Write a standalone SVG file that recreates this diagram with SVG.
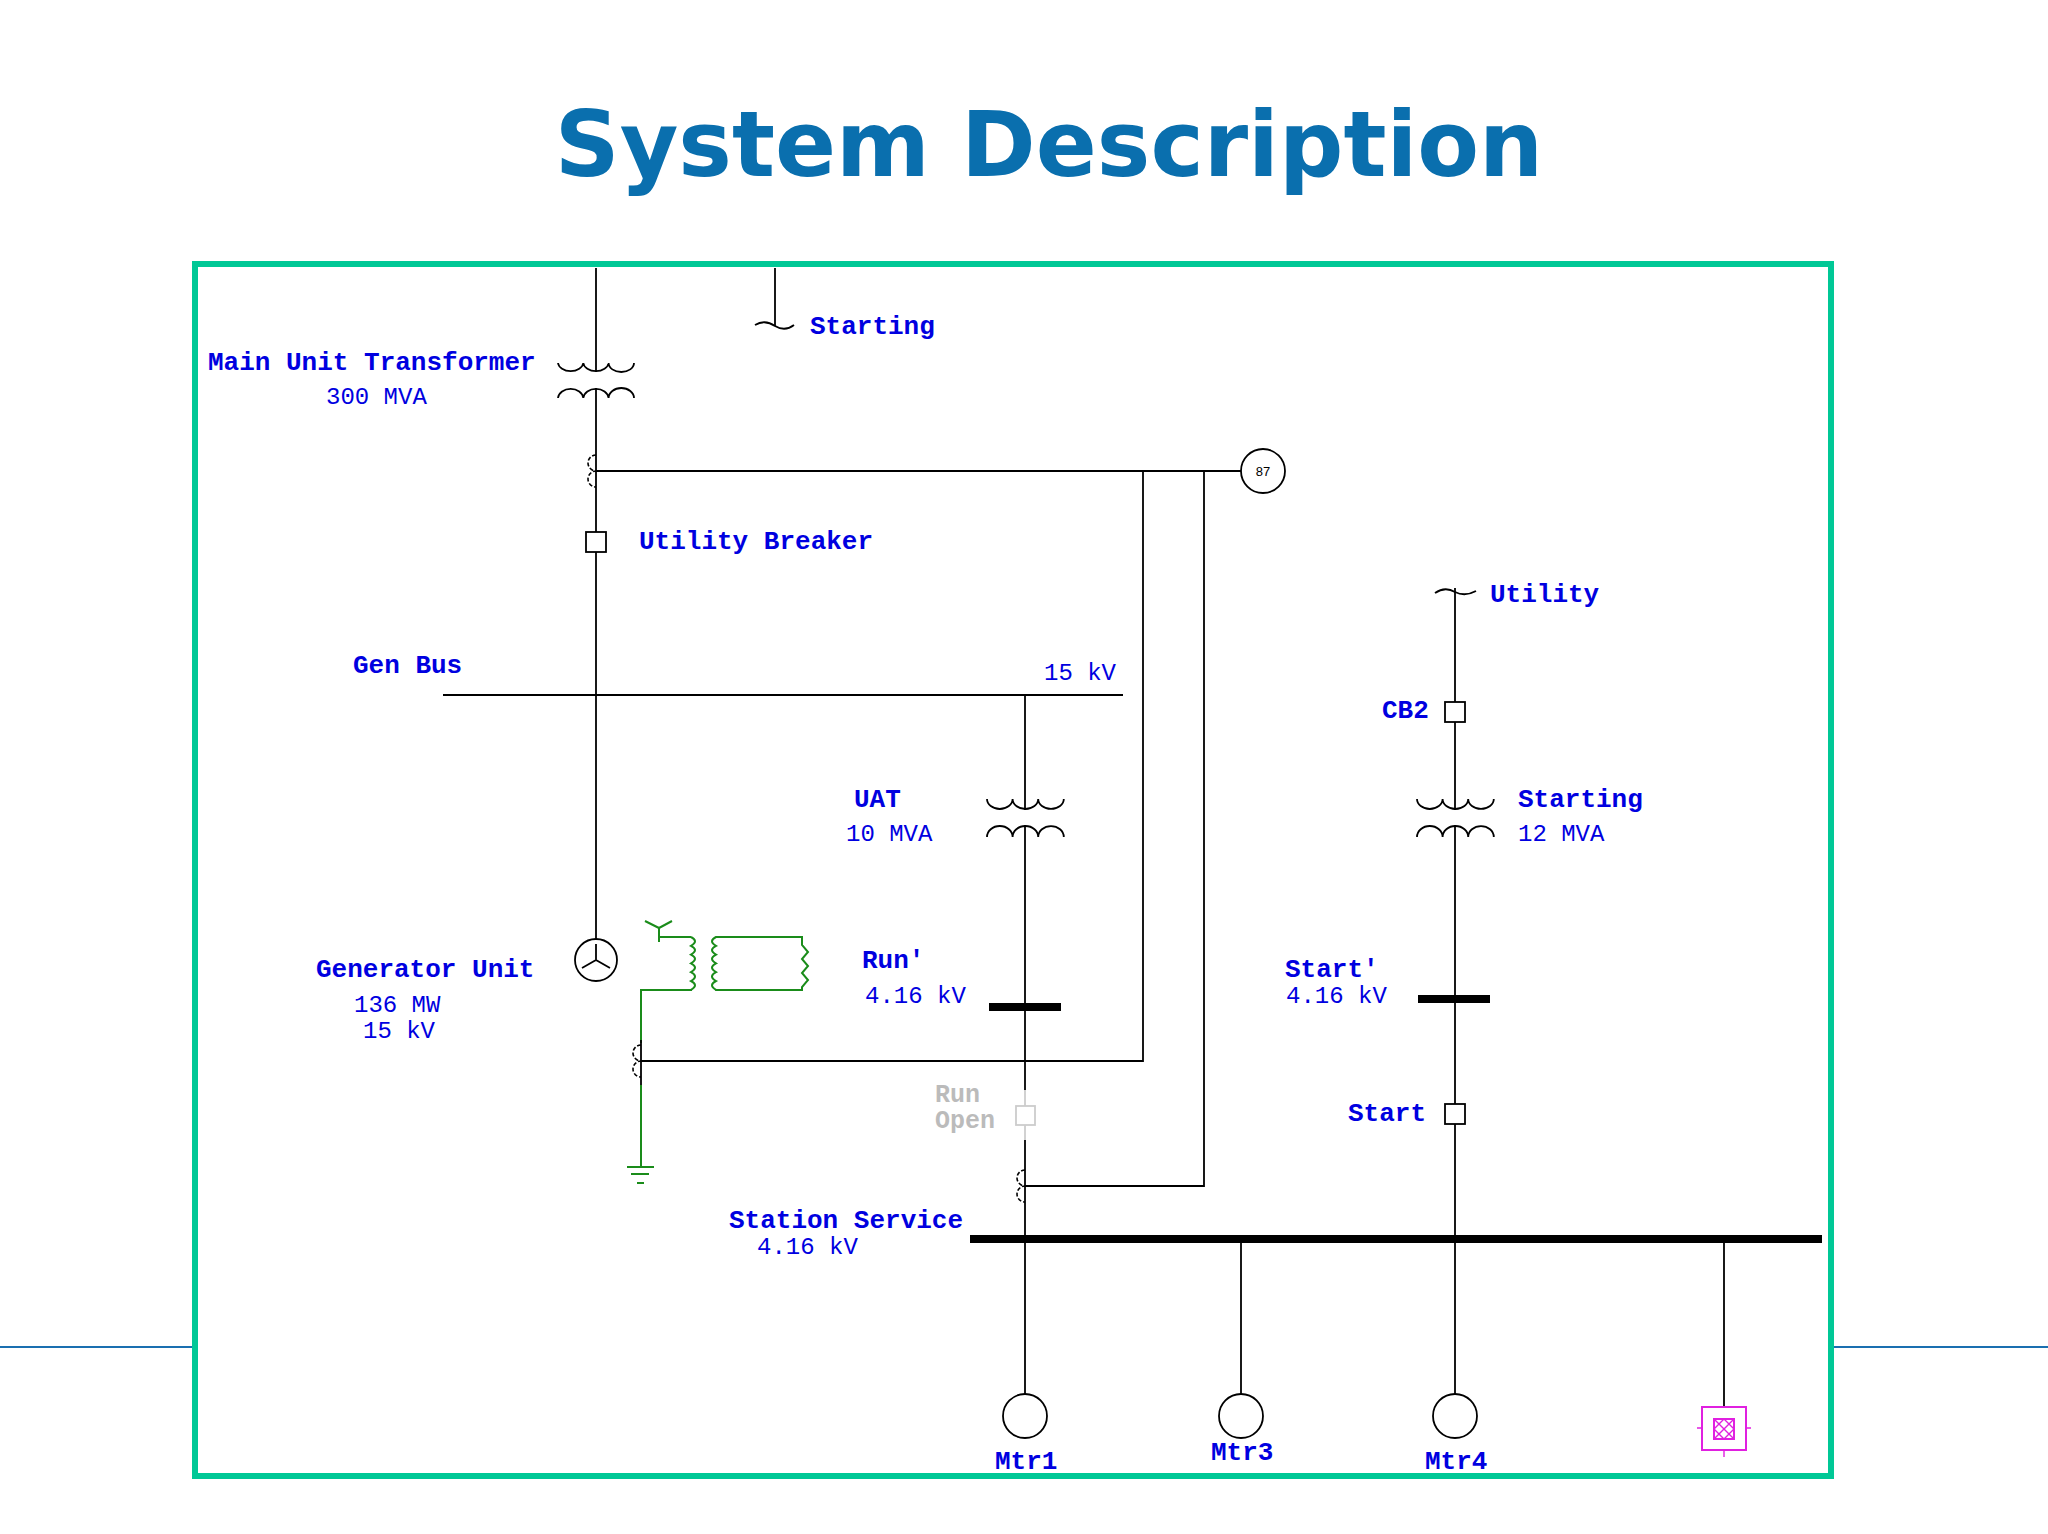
<svg xmlns="http://www.w3.org/2000/svg" width="2048" height="1534" viewBox="0 0 2048 1534">
<style>
.w{fill:none;stroke:#000;stroke-width:1.8}
.g{fill:none;stroke:#1a8c1a;stroke-width:2}
.bus{stroke:#000;stroke-width:8}
.lb{font-family:"Liberation Mono",monospace;font-weight:bold;font-size:26px;fill:#0000e0}
.lv{font-family:"Liberation Mono",monospace;font-size:24px;fill:#0000e0}
.gr{font-family:"Liberation Mono",monospace;font-weight:bold;font-size:25px;fill:#bbbbbb}
.ct{fill:none;stroke:#000;stroke-width:1.6;stroke-dasharray:4 2}
</style>
<rect width="2048" height="1534" fill="#fff"/>
<text x="1049" y="176" text-anchor="middle" font-family="DejaVu Sans,sans-serif" font-weight="bold" font-size="90" fill="#0a6fae">System Description</text>
<line x1="0" y1="1347" x2="195" y2="1347" stroke="#1a6fb0" stroke-width="2"/>
<line x1="1831" y1="1347" x2="2048" y2="1347" stroke="#1a6fb0" stroke-width="2"/>
<rect x="195" y="264" width="1636" height="1212" fill="none" stroke="#00c896" stroke-width="6"/>
<g id="connectors">
<line class="w" x1="596" y1="268" x2="596" y2="372"/>
<line class="w" x1="596" y1="388" x2="596" y2="939"/>
<line class="w" x1="775" y1="268" x2="775" y2="326"/>
<path class="w" d="M755,325 q10,-6 20,1 q10,6 19,-1"/>
<line class="w" x1="596" y1="471" x2="1241" y2="471"/>
<polyline class="w" points="1143,471 1143,1061 641,1061"/>
<polyline class="w" points="1204,471 1204,1186 1025,1186"/>
<line class="w" x1="443" y1="695" x2="1123" y2="695"/>
<line class="w" x1="1025" y1="695" x2="1025" y2="810"/>
<line class="w" x1="1025" y1="825" x2="1025" y2="1090"/>
<line x1="1025" y1="1090" x2="1025" y2="1140" stroke="#ccc" stroke-width="1.8"/>
<line class="w" x1="1025" y1="1140" x2="1025" y2="1394"/>
<line class="bus" x1="989" y1="1007" x2="1061" y2="1007"/>
<line class="bus" x1="970" y1="1239" x2="1822" y2="1239"/>
<line class="w" x1="1241" y1="1239" x2="1241" y2="1394"/>
<line class="w" x1="1455" y1="588" x2="1455" y2="810"/>
<line class="w" x1="1455" y1="825" x2="1455" y2="1394"/>
<path class="w" d="M1435,593 q10,-7 20,-1 q10,5 21,-1"/>
<line class="bus" x1="1418" y1="999" x2="1490" y2="999"/>
<line x1="1724" y1="1239" x2="1724" y2="1407" stroke="#000" stroke-width="1.8"/>
</g>
<g id="main-unit-transformer">
<path class="w" d="M558,363 a12.7,9 0 0 0 25.3,0 a12.7,9 0 0 0 25.3,0 a12.7,9 0 0 0 25.4,0"/>
<path class="w" d="M558,398 a12.7,10 0 0 1 25.3,0 a12.7,10 0 0 1 25.3,0 a12.7,10 0 0 1 25.4,0"/>
<text class="lb" x="208" y="370">Main Unit Transformer</text>
<text class="lv" x="326" y="404">300 MVA</text>
</g>
<g id="starting-feed"><text class="lb" x="810" y="334">Starting</text></g>
<g id="ct-main"><path class="ct" d="M596,455 a8,8 0 0 0 0,16 a8,8 0 0 0 0,16"/></g>
<g id="relay87"><circle cx="1263" cy="471" r="22" fill="#fff" stroke="#000" stroke-width="1.8"/><text x="1263" y="476" text-anchor="middle" font-family="Liberation Sans,sans-serif" font-size="13">87</text></g>
<g id="utility-breaker"><rect x="586" y="532" width="20" height="20" fill="#fff" stroke="#000" stroke-width="1.8"/><text class="lb" x="639" y="549">Utility Breaker</text></g>
<g id="gen-bus"><text class="lb" x="353" y="673">Gen Bus</text><text class="lv" x="1044" y="680">15 kV</text></g>
<g id="uat">
<path class="w" d="M987,799 a12.8,10 0 0 0 25.6,0 a12.8,10 0 0 0 25.6,0 a12.8,10 0 0 0 25.6,0"/>
<path class="w" d="M987,837 a12.8,11 0 0 1 25.6,0 a12.8,11 0 0 1 25.6,0 a12.8,11 0 0 1 25.6,0"/>
<text class="lb" x="854" y="807">UAT</text><text class="lv" x="846" y="841">10 MVA</text>
</g>
<g id="run-bus"><text class="lb" x="862" y="968">Run'</text><text class="lv" x="865" y="1003">4.16 kV</text></g>
<g id="run-breaker"><rect x="1016" y="1106" width="19" height="19" fill="#fff" stroke="#ccc" stroke-width="1.8"/><text class="gr" x="935" y="1102">Run</text><text class="gr" x="935" y="1128">Open</text></g>
<g id="ct-uat"><path class="ct" d="M1025,1170 a8,8 0 0 0 0,16 a8,8 0 0 0 0,16"/></g>
<g id="generator">
<circle cx="596" cy="960" r="21" fill="#fff" stroke="#000" stroke-width="1.8"/>
<path class="w" d="M596,960 V944 M596,960 L582,968 M596,960 L610,968"/>
<text class="lb" x="316" y="977">Generator Unit</text><text class="lv" x="354" y="1012">136 MW</text><text class="lv" x="363" y="1038">15 kV</text>
</g>
<g id="exciter">
<path class="g" d="M645,921 L659,928 L672,921 M659,928 V942 M659,937 H691 M691,937 q8,4 0,8.8 q8,4 0,8.8 q8,4 0,8.8 q8,4 0,8.8 q8,4 0,8.8 q8,4 0,8.8 V990 H641 V1043"/>
<path class="g" d="M716,937 q-8,4 0,8.8 q-8,4 0,8.8 q-8,4 0,8.8 q-8,4 0,8.8 q-8,4 0,8.8 q-8,4 0,8.8 V990 H802 V987 l6,-7 l-6,-7 l6,-7 l-6,-7 l6,-7 l-6,-7 V937 Z" stroke-linejoin="miter"/>
<line class="w" x1="641" y1="1040" x2="641" y2="1085"/>
<path class="ct" d="M641,1045 a8,8 0 0 0 0,16 a8,8 0 0 0 0,16"/>
<path class="g" d="M641,1085 V1167 M627,1167 H654 M631,1174 H649 M637,1183 H644"/>
</g>
<g id="station-service"><text class="lb" x="729" y="1228">Station Service</text><text class="lv" x="757" y="1254">4.16 kV</text></g>
<g id="mtr1"><circle cx="1025" cy="1416" r="22" fill="#fff" stroke="#000" stroke-width="1.8"/><text class="lb" x="995" y="1469">Mtr1</text></g>
<g id="mtr3"><circle cx="1241" cy="1416" r="22" fill="#fff" stroke="#000" stroke-width="1.8"/><text class="lb" x="1211" y="1460">Mtr3</text></g>
<g id="mtr4"><circle cx="1455" cy="1416" r="22" fill="#fff" stroke="#000" stroke-width="1.8"/><text class="lb" x="1425" y="1469">Mtr4</text></g>
<g id="load" stroke="#e020e0" fill="none" stroke-width="2">
<rect x="1702" y="1407" width="44" height="43"/>
<rect x="1714" y="1419" width="20" height="20"/>
<path d="M1714,1419 L1734,1439 M1734,1419 L1714,1439 M1724,1419 L1734,1429 L1724,1439 L1714,1429 Z M1697,1428 H1702 M1746,1428 H1751 M1724,1450 V1457" stroke-width="1.4"/>
</g>
<g id="utility-feed"><text class="lb" x="1490" y="602">Utility</text></g>
<g id="cb2"><rect x="1445" y="702" width="20" height="20" fill="#fff" stroke="#000" stroke-width="1.8"/><text class="lb" x="1382" y="718">CB2</text></g>
<g id="starting-transformer">
<path class="w" d="M1417,799 a12.8,10 0 0 0 25.6,0 a12.8,10 0 0 0 25.6,0 a12.8,10 0 0 0 25.6,0"/>
<path class="w" d="M1417,837 a12.8,11 0 0 1 25.6,0 a12.8,11 0 0 1 25.6,0 a12.8,11 0 0 1 25.6,0"/>
<text class="lb" x="1518" y="807">Starting</text><text class="lv" x="1518" y="841">12 MVA</text>
</g>
<g id="start-bus"><text class="lb" x="1285" y="977">Start'</text><text class="lv" x="1286" y="1003">4.16 kV</text></g>
<g id="start-breaker"><rect x="1445" y="1104" width="20" height="20" fill="#fff" stroke="#000" stroke-width="1.8"/><text class="lb" x="1348" y="1121">Start</text></g>
</svg>
